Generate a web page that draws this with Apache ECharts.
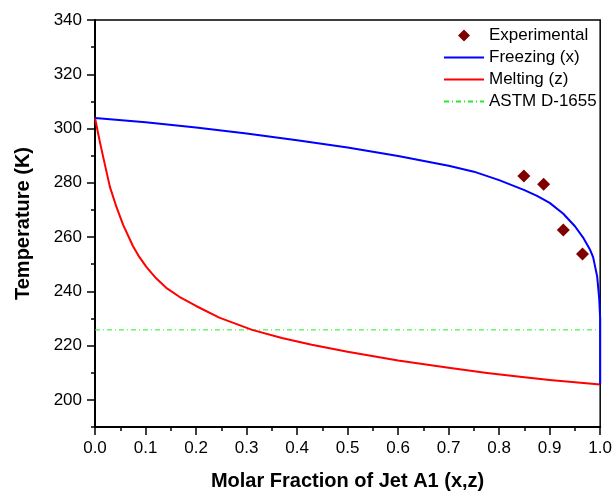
<!DOCTYPE html>
<html>
<head>
<meta charset="utf-8">
<script src="https://cdn.jsdelivr.net/npm/echarts@6/dist/echarts.min.js"></script>
<style>
  html, body { margin: 0; padding: 0; background: #fff; }
  #chart { width: 615px; height: 496px; }
</style>
</head>
<body>
<div id="chart"></div>
<script>
// values
const experimentalX = [0.849, 0.888, 0.927, 0.965];
const experimentalT = [282.5, 279.5, 262.6, 253.8];

const freezingX = [0, 0.1, 0.2, 0.3, 0.4, 0.5, 0.6, 0.7, 0.75, 0.8, 0.85, 0.875, 0.9, 0.927, 0.95, 0.967, 0.98, 0.986, 0.994, 0.998, 1.0];
const freezingT = [303.9, 302.3, 300.4, 298.2, 295.7, 293.0, 289.9, 286.3, 284.1, 281.0, 277.3, 275.2, 272.6, 268.6, 264.0, 259.6, 255.3, 252.6, 245.5, 237.5, 230.0];
// the freezing line drops straight down along x = 1
const freezingEdgeT = [230.0, 205.7];

const meltingX = [0, 0.005, 0.0098, 0.0197, 0.0295, 0.0426, 0.0557, 0.0753, 0.088, 0.1016, 0.121, 0.141, 0.167, 0.2, 0.246, 0.311, 0.37, 0.429, 0.5, 0.6, 0.7, 0.776, 0.85, 0.9, 1.0];
const meltingT = [304.0, 299.3, 294.9, 286.6, 278.5, 271.0, 264.5, 256.6, 252.6, 249.0, 244.8, 241.3, 238.0, 234.6, 230.3, 225.8, 222.8, 220.3, 217.7, 214.5, 211.8, 209.9, 208.3, 207.3, 205.7];

const astmT = 225.8;

const yMajor = [200, 220, 240, 260, 280, 300, 320, 340];
const yMinor = [190, 210, 230, 250, 270, 290, 310, 330];

const FONT = "'Liberation Sans', Arial, sans-serif";

function zip(xs, ys) {
  return xs.map((x, i) => [x, ys[i]]);
}

const chart = echarts.init(document.getElementById("chart"));

// line entries: keep the legend line, hide the default symbol
const lineOnly = { itemStyle: { opacity: 0 } };

chart.setOption({
  animation: false,
  backgroundColor: "#fff",
  grid: {
    left: 95, right: 11, top: 20, bottom: 66,
    show: true, borderColor: "#000", borderWidth: 1.5, backgroundColor: "transparent"
  },
  legend: {
    orient: "vertical",
    left: 443, top: 25.5, padding: 0,
    itemWidth: 40, itemHeight: 15, itemGap: 2,
    textStyle: { fontFamily: FONT, fontSize: 17, color: "#000", lineHeight: 20 },
    data: [
      { name: "Experimental" },
      { name: "Freezing (x)", ...lineOnly },
      { name: "Melting (z)", ...lineOnly },
      { name: "ASTM D-1655", ...lineOnly }
    ]
  },
  xAxis: {
    type: "value", min: 0, max: 1, interval: 0.1,
    name: "Molar Fraction of Jet A1 (x,z)",
    nameLocation: "middle", nameGap: 44,
    nameTextStyle: { fontFamily: FONT, fontSize: 20, fontWeight: "bold", color: "#000" },
    axisLine: { lineStyle: { color: "#000", width: 2 } },
    axisTick: { inside: false, length: 8, lineStyle: { color: "#000", width: 1.5 } },
    minorTick: { show: true, splitNumber: 2, length: 4, lineStyle: { color: "#000", width: 1.5 } },
    axisLabel: { fontFamily: FONT, fontSize: 17, color: "#000", margin: 13, formatter: v => v.toFixed(1) },
    splitLine: { show: false }
  },
  yAxis: [
    {
      type: "value", min: 190, max: 340,
      name: "Temperature (K)",
      nameLocation: "middle", nameGap: 62,
      nameTextStyle: { fontFamily: FONT, fontSize: 20, fontWeight: "bold", color: "#000" },
      axisLine: { show: true, lineStyle: { color: "#000", width: 2 } },
      axisTick: { show: true, length: 8, customValues: yMajor, lineStyle: { color: "#000", width: 1.5 } },
      axisLabel: { fontFamily: FONT, fontSize: 17, color: "#000", margin: 13, customValues: yMajor },
      splitLine: { show: false }
    },
    {
      type: "value", min: 190, max: 340, position: "left",
      axisLine: { show: false },
      axisTick: { show: true, length: 4, customValues: yMinor, lineStyle: { color: "#000", width: 1.5 } },
      axisLabel: { show: false },
      splitLine: { show: false }
    }
  ],
  series: [
    {
      name: "ASTM D-1655", type: "line", symbol: "none", clip: false,
      data: [[0, astmT], [1, astmT]],
      lineStyle: { color: "#22ee22", width: 1, type: [5, 3, 1, 3] },
      itemStyle: { color: "#22ee22" }
    },
    {
      name: "Melting (z)", type: "line", symbol: "none", clip: false,
      data: zip(meltingX, meltingT),
      lineStyle: { color: "#ff0000", width: 2, join: "round" },
      itemStyle: { color: "#ff0000" }
    },
    {
      name: "Freezing (x)", type: "line", symbol: "none", clip: false,
      data: zip(freezingX, freezingT),
      lineStyle: { color: "#0000ff", width: 2, join: "round" },
      itemStyle: { color: "#0000ff" }
    },
    {
      name: "Freezing (x)", type: "line", symbol: "none", clip: false,
      data: freezingEdgeT.map(t => [1.0, t]),
      lineStyle: { color: "#0000ff", width: 2 },
      itemStyle: { color: "#0000ff" }
    },
    {
      name: "Experimental", type: "line", symbol: "diamond", symbolSize: 13,
      showSymbol: true, clip: false,
      data: zip(experimentalX, experimentalT),
      lineStyle: { width: 0, opacity: 0 },
      itemStyle: { color: "#800000", opacity: 1 }
    }
  ]
});
</script>
</body>
</html>
